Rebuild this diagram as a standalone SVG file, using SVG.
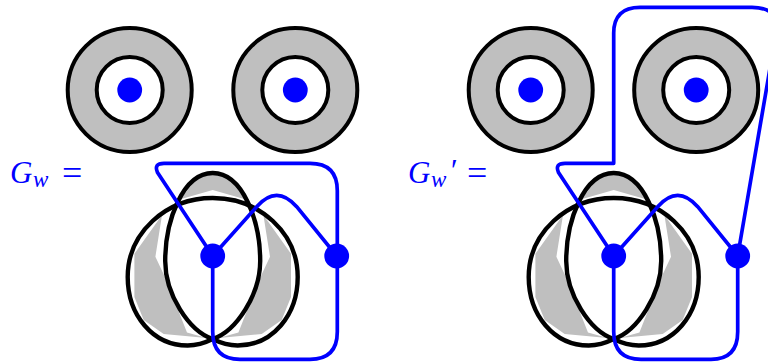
<svg xmlns="http://www.w3.org/2000/svg" width="768" height="362" viewBox="0 0 768 362">
<style>
.k{fill:none;stroke:#000;stroke-width:4.4}
.a{fill:#bfbfbf;stroke:#000;stroke-width:4}
.i{fill:#fff;stroke:#000;stroke-width:4}
.g{fill:#bfbfbf;stroke:none}
.b{fill:none;stroke:#00f;stroke-width:3.7;stroke-linejoin:round}
.d{fill:#00f}
text{font-family:"Liberation Serif",serif;fill:#00f}
.m{font-style:italic;font-size:31px}
.s{font-style:italic;font-size:23px}
.e{font-size:36px}
</style>
<defs>
<g id="ring">
<circle class="a" r="62"/>
<circle class="i" r="33"/>
<circle class="d" r="12.4"/>
</g>
<g id="knot">
<polygon class="g" points="-50.7,-41 -57.3,0.7 -47.3,22 -25.7,76.5 -6,82 -49,78 -69,64 -78.3,41 -78.3,-2.3"/>
<polygon class="g" points="50.7,-41 57.3,0.7 47.3,22 25.7,76.5 6,82 49,78 69,64 78.3,41 78.3,-2.3"/>
<polygon class="g" points="-6,-83 6,-83 17.3,-76 32.3,-56.7 0,-66 -32.3,-56.7 -17.3,-76"/>
<path class="k" d="M0,-83 C-30,-83 -47.5,-35 -47.5,5 C-47.5,38 -24,75 0,83 C24,75 47.5,38 47.5,5 C47.5,-35 30,-83 0,-83 Z"/>
<path class="k" d="M0,83 C-8,87 -16,89.5 -25,89.5 C-60,89.5 -85,59 -85,21 C-85,-23 -47,-58 0,-58 C47,-58 85,-23 85,21 C85,59 60,89.5 25,89.5 C16,89.5 8,87 0,83 Z"/>
</g>
</defs>
<g id="label-left"><text x="10" y="183"><tspan class="m">G</tspan><tspan class="s" x="33" y="187">w</tspan><tspan class="e" x="62" y="185">=</tspan></text></g>
<g id="label-right"><text x="408" y="183"><tspan class="m">G</tspan><tspan class="s" x="431" y="187">w</tspan><tspan class="m" x="449" y="181">′</tspan><tspan class="e" x="467" y="185">=</tspan></text></g>
<g id="ring-l1"><use href="#ring" x="129.7" y="90"/></g>
<g id="ring-l2"><use href="#ring" x="295.3" y="90"/></g>
<g id="ring-r1"><use href="#ring" x="530.7" y="90"/></g>
<g id="ring-r2"><use href="#ring" x="696.2" y="90"/></g>
<g id="knot-left"><use href="#knot" x="212.7" y="256"/></g>
<g id="knot-right"><use href="#knot" x="613.7" y="256"/></g>
<g id="connectors">
<path class="b" d="M212.7,256 L157.5,172.5 Q153.5,163.3 164,163.3 L310,163.3 Q337.3,163.3 337.3,190.7 L337.3,331.7 Q337.3,359.3 310,359.3 L240,359.3 Q212.7,359.3 212.7,331.7 L212.7,256"/>
<path class="b" d="M212.7,256 L256.7,206.7 Q276.7,184 296.7,206.7 L336.7,256"/>
<path class="b" d="M613.7,256 L558.5,172.5 Q554.5,163.3 565,163.3 L613.7,163.3 L613.7,33 Q613.7,7.3 640,7.3 L752,7.3 Q778,7.3 776.6,30 L737.7,256"/>
<path class="b" d="M613.7,256 L657.7,206.7 Q677.7,184 697.7,206.7 L737.7,256"/>
<path class="b" d="M737.7,256 L737.7,331.7 Q737.7,359.3 711,359.3 L641,359.3 Q613.7,359.3 613.7,331.7 L613.7,256"/>
</g>
<g id="vertices">
<circle class="d" cx="212.7" cy="256" r="12.4"/>
<circle class="d" cx="336.7" cy="256" r="12.4"/>
<circle class="d" cx="613.7" cy="256" r="12.4"/>
<circle class="d" cx="737.7" cy="256" r="12.4"/>
</g>
</svg>
